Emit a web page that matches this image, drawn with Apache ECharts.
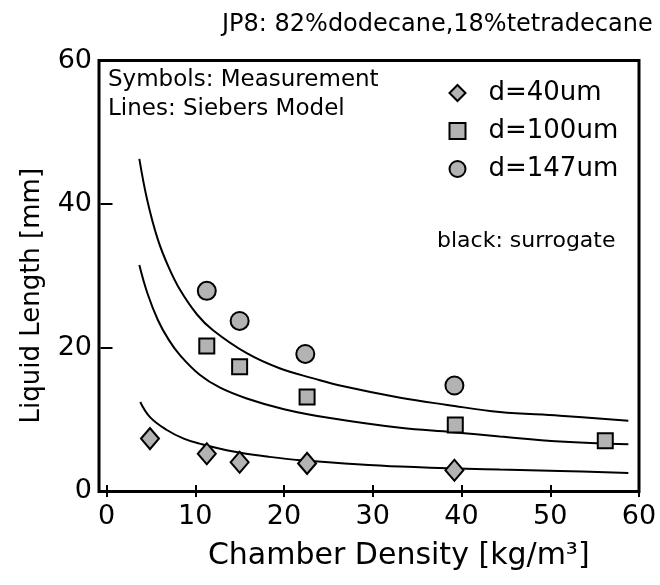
<!DOCTYPE html>
<html>
<head>
<meta charset="utf-8">
<script src="https://cdn.jsdelivr.net/npm/echarts@6/dist/echarts.min.js"></script>
<style>html,body{margin:0;padding:0;background:#fff}#c{width:660px;height:585px}</style>
</head>
<body>
<div id="c"></div>
<script>
// ---- data ----
const xTicks = [0, 10, 20, 30, 40, 50, 60];
const yTicks = [0, 20, 40, 60];

const d40X = [4.9, 11.3, 15.0, 22.6, 39.2];
const d40Y = [7.3, 5.2, 4.0, 3.85, 2.9];
const d100X = [11.3, 15.0, 22.6, 39.3, 56.2];
const d100Y = [20.2, 17.3, 13.1, 9.2, 7.0];
const d147X = [11.3, 15.0, 22.4, 39.2];
const d147Y = [27.9, 23.7, 19.1, 14.7];

// model lines (Siebers)
const mTopX = [3.7, 4.6, 5.8, 7.0, 8.3, 10.2, 12.0, 15.8, 19.5, 23.3, 26.3, 33.1, 38.4, 44.3, 51.1, 58.8];
const mTopY = [46.3, 40.5, 35.0, 31.2, 28.0, 24.6, 22.4, 19.2, 17.1, 15.7, 14.7, 13.0, 12.0, 11.0, 10.5, 9.8];
const mMidX = [3.7, 4.6, 5.8, 7.0, 8.3, 10.5, 12.8, 15.8, 20.0, 25.0, 33.1, 39.0, 44.3, 51.1, 58.8];
const mMidY = [31.5, 27.6, 23.8, 21.1, 18.9, 16.2, 14.4, 12.9, 11.4, 10.2, 8.8, 8.2, 7.6, 6.9, 6.5];
const mLowX = [3.8, 4.9, 6.8, 8.7, 10.5, 14.3, 18.1, 21.8, 33.1, 44.3, 51.1, 58.8];
const mLowY = [12.4, 10.3, 8.5, 7.3, 6.6, 5.5, 4.8, 4.3, 3.4, 3.0, 2.8, 2.5];

const zip = (a, b) => a.map((v, i) => [v, b[i]]);

const FONT = 'DejaVu Sans';
const GRAY = '#b3b3b3';

const chart = echarts.init(document.getElementById('c'), null, {renderer: 'canvas'});

const tickStyle = {show: true, inside: true, length: 6, lineStyle: {color: '#000', width: 2}};

function lineSeries(name, xs, ys) {
  return {
    name: name, type: 'line', data: zip(xs, ys), smooth: 0.4,
    showSymbol: false, symbol: 'none', silent: true,
    lineStyle: {color: '#000', width: 2}, z: 2
  };
}
function scatterSeries(name, sym, size, xs, ys) {
  return {
    name: name, type: 'scatter', symbol: sym, symbolSize: size, data: zip(xs, ys),
    itemStyle: {color: GRAY, borderColor: '#000', borderWidth: 2, opacity: 1}, z: 3
  };
}

chart.setOption({
  animation: false,
  backgroundColor: '#fff',
  title: {
    text: 'JP8: 82%dodecane,18%tetradecane',
    left: 222, top: 13, padding: 0,
    textStyle: {fontFamily: FONT, fontSize: 24, fontWeight: 'normal', color: '#000'}
  },
  grid: {left: 106.5, right: 21, top: 60.5, bottom: 94, containLabel: false},
  legend: {
    orient: 'vertical', left: 448.5, top: 80, padding: 0, itemWidth: 16, itemHeight: 16, itemGap: 12,
    data: ['d=40um', 'd=100um', 'd=147um'],
    textStyle: {fontFamily: FONT, fontSize: 26, color: '#000', padding: [0, 0, 0, 18]},
    selectedMode: false
  },
  xAxis: [{
    type: 'value', position: 'bottom', min: xTicks[0], max: xTicks[xTicks.length - 1], interval: 10,
    axisLine: {show: false}, axisTick: tickStyle, splitLine: {show: false},
    axisLabel: {fontFamily: FONT, fontSize: 27, color: '#000', margin: 12},
    name: 'Chamber Density [kg/m³]', nameLocation: 'middle', nameGap: 50,
    nameTextStyle: {fontFamily: FONT, fontSize: 30, color: '#000', padding: [0, 0, 0, 52]}
  }, {
    type: 'value', position: 'top', min: xTicks[0], max: xTicks[xTicks.length - 1], interval: 10,
    axisLine: {show: false}, axisTick: tickStyle, splitLine: {show: false}, axisLabel: {show: false}
  }],
  yAxis: [{
    type: 'value', position: 'left', offset: 7.5, min: yTicks[0], max: yTicks[yTicks.length - 1], interval: 20,
    axisLine: {show: false}, axisTick: tickStyle, splitLine: {show: false},
    axisLabel: {fontFamily: FONT, fontSize: 27, color: '#000', margin: 7},
    name: 'Liquid Length [mm]', nameLocation: 'middle', nameGap: 54, nameRotate: 90,
    nameTextStyle: {fontFamily: FONT, fontSize: 26, color: '#000', padding: [0, 40, 0, 0]}
  }, {
    type: 'value', position: 'right', min: yTicks[0], max: yTicks[yTicks.length - 1], interval: 20,
    axisLine: {show: false}, axisTick: tickStyle, splitLine: {show: false}, axisLabel: {show: false}
  }],
  graphic: [
    {type: 'rect', shape: {x: 99, y: 60.5, width: 540, height: 431}, style: {fill: 'none', stroke: '#000', lineWidth: 3}, z: 10, silent: true},
    {type: 'text', x: 108, y: 80, style: {text: 'Symbols: Measurement', fontFamily: FONT, fontSize: 23, fill: '#000', verticalAlign: 'middle'}, silent: true},
    {type: 'text', x: 108, y: 109, style: {text: 'Lines: Siebers Model', fontFamily: FONT, fontSize: 23, fill: '#000', verticalAlign: 'middle'}, silent: true},
    {type: 'text', x: 437, y: 241, style: {text: 'black: surrogate', fontFamily: FONT, fontSize: 22, fill: '#000', verticalAlign: 'middle'}, silent: true}
  ],
  series: [
    lineSeries('m147', mTopX, mTopY),
    lineSeries('m100', mMidX, mMidY),
    lineSeries('m40', mLowX, mLowY),
    scatterSeries('d=40um', 'diamond', [18, 21], d40X, d40Y),
    scatterSeries('d=100um', 'rect', 15, d100X, d100Y),
    scatterSeries('d=147um', 'circle', 18, d147X, d147Y)
  ]
});
</script>
</body>
</html>
